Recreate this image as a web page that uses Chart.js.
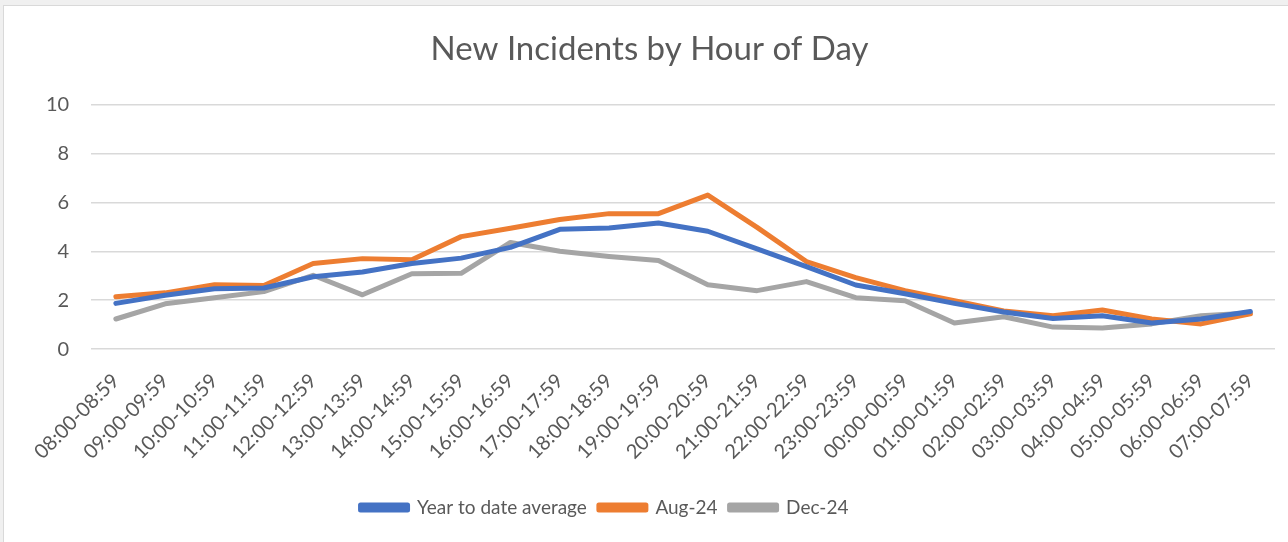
<!DOCTYPE html>
<html>
<head>
<meta charset="utf-8">
<script src="https://cdn.jsdelivr.net/npm/chart.js@4"></script>
<style>
  html, body { margin: 0; padding: 0; background: #f0f0f0; }
  #box {
    position: absolute; left: 3px; top: 5px; width: 1285px; height: 537px;
    background: #fff; border-left: 1px solid #d9d9d9; border-top: 1px solid #d9d9d9;
  }
  canvas { display: block; }
</style>
</head>
<body>
<div id="box"><canvas id="line-chart" width="1284" height="536"></canvas></div>
<script>
const hours = ["08:00-08:59", "09:00-09:59", "10:00-10:59", "11:00-11:59", "12:00-12:59", "13:00-13:59",
  "14:00-14:59", "15:00-15:59", "16:00-16:59", "17:00-17:59", "18:00-18:59", "19:00-19:59",
  "20:00-20:59", "21:00-21:59", "22:00-22:59", "23:00-23:59", "00:00-00:59", "01:00-01:59",
  "02:00-02:59", "03:00-03:59", "04:00-04:59", "05:00-05:59", "06:00-06:59", "07:00-07:59"];

const ytdAverage = [1.87, 2.2, 2.47, 2.5, 2.96, 3.15, 3.5, 3.72, 4.16, 4.9, 4.95, 5.16,
  4.82, 4.1, 3.37, 2.62, 2.26, 1.87, 1.52, 1.25, 1.36, 1.07, 1.23, 1.54];
const aug24 = [2.14, 2.3, 2.63, 2.6, 3.5, 3.7, 3.65, 4.6, 4.94, 5.3, 5.54, 5.54,
  6.3, 4.98, 3.58, 2.92, 2.39, 1.98, 1.56, 1.36, 1.6, 1.23, 1.03, 1.44];
const dec24 = [1.23, 1.85, 2.1, 2.35, 3.02, 2.22, 3.08, 3.1, 4.36, 4.0, 3.79, 3.62,
  2.63, 2.39, 2.76, 2.1, 1.98, 1.07, 1.32, 0.9, 0.86, 1.03, 1.36, 1.48];

const yTicks = [0, 2, 4, 6, 8, 10];

const textColor = "#595959";
const fontFamily = "Lato, 'Open Sans', sans-serif";

// the legend in the original sits a bit left of centre
const shiftLegend = {
  id: "shiftLegend",
  afterLayout(chart) {
    chart.legend.left -= 45;
    chart.legend.right -= 45;
  }
};

const lineCTX = document.getElementById("line-chart");

new Chart(lineCTX, {
  type: "line",
  data: {
    labels: hours,
    datasets: [
      { label: "Year to date average", data: ytdAverage, borderColor: "#4472C4", backgroundColor: "#4472C4" },
      { label: "Aug-24", data: aug24, borderColor: "#ED7D31", backgroundColor: "#ED7D31" },
      { label: "Dec-24", data: dec24, borderColor: "#A5A5A5", backgroundColor: "#A5A5A5" }
    ]
  },
  options: {
    responsive: false,
    animation: false,
    layout: { padding: { left: 20, right: 13, top: 10, bottom: 15 } },
    elements: {
      line: { borderWidth: 5, tension: 0, borderCapStyle: "round", borderJoinStyle: "round" },
      point: { radius: 0 }
    },
    plugins: {
      title: {
        display: true,
        text: "New Incidents by Hour of Day",
        color: textColor,
        font: { family: fontFamily, size: 33, weight: "normal" },
        padding: { top: 14, bottom: 35 }
      },
      legend: {
        position: "bottom",
        labels: {
          color: textColor,
          font: { family: fontFamily, size: 19 },
          boxWidth: 47,
          boxHeight: 5,
          padding: 12
        }
      },
      tooltip: { enabled: false }
    },
    scales: {
      x: {
        offset: true,
        grid: { display: false },
        border: { display: false },
        afterFit: axis => { axis.height += 10; },
        ticks: {
          color: textColor,
          font: { family: fontFamily, size: 20 },
          maxRotation: 45,
          minRotation: 45,
          autoSkip: false,
          padding: 12
        }
      },
      y: {
        min: 0,
        max: 10,
        afterBuildTicks: axis => { axis.ticks = yTicks.map(v => ({ value: v })); },
        grid: { color: "#d9d9d9", lineWidth: 1.5, drawTicks: false },
        border: { display: false },
        ticks: {
          color: textColor,
          font: { family: fontFamily, size: 20 },
          padding: 22
        }
      }
    }
  },
  plugins: [shiftLegend]
});
</script>
</body>
</html>
